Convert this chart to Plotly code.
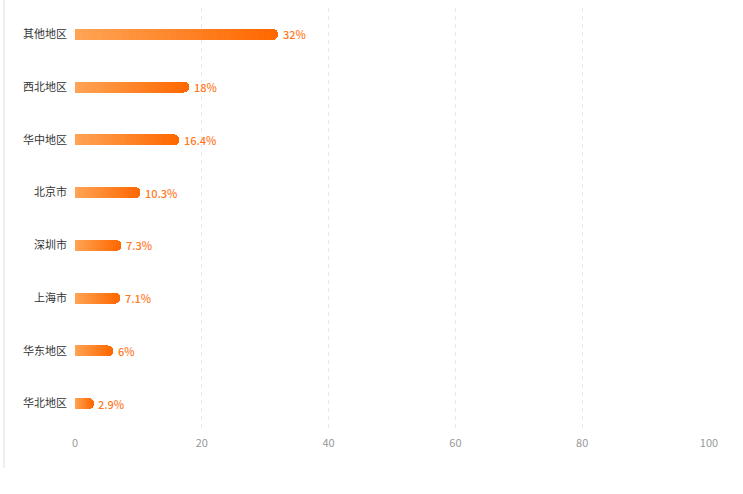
import plotly.graph_objects as go

regions = ["其他地区", "西北地区", "华中地区", "北京市", "深圳市", "上海市", "华东地区", "华北地区"]
values = [32, 18, 16.4, 10.3, 7.3, 7.1, 6, 2.9]
labels = ["32%", "18%", "16.4%", "10.3%", "7.3%", "7.1%", "6%", "2.9%"]
x_ticks = [0, 20, 40, 60, 80, 100]

c0 = (255, 163, 84)
c1 = (255, 104, 0)
N = 30

fig = go.Figure()
for i in range(N):
    t = i / (N - 1)
    col = "rgb(%d,%d,%d)" % tuple(round(a + (b - a) * t) for a, b in zip(c0, c1))
    fig.add_trace(go.Bar(
        y=regions, x=[v / N for v in values], orientation="h",
        marker=dict(color=col, line=dict(width=0)),
        hoverinfo="skip", showlegend=False,
    ))

for r, v, lab in zip(regions, values, labels):
    fig.add_annotation(
        x=v, y=r, text=lab, showarrow=False, xanchor="left", yanchor="middle",
        xshift=3, yshift=0,
        font=dict(color="#FF7A1F", size=11, family="Noto Sans CJK SC", weight=500),
    )

fig.update_layout(
    width=743, height=494,
    margin=dict(l=75, r=34, t=8, b=64),
    barmode="stack", bargap=0.79, barcornerradius=6,
    plot_bgcolor="white", paper_bgcolor="white",
    font=dict(family="Noto Sans CJK SC", size=11, color="#333333"),
    xaxis=dict(
        range=[0, 100], tickvals=x_ticks, showgrid=True, automargin=False,
        gridcolor="#e8e8e8", griddash="4px,4px", gridwidth=1,
        zeroline=False, showline=False, ticks="",
        ticklabelstandoff=5,
        tickfont=dict(color="#999999", size=11),
    ),
    yaxis=dict(
        categoryorder="array", categoryarray=regions[::-1], automargin=False,
        showgrid=False, zeroline=False, showline=False, ticks="",
        ticklabelstandoff=7,
        tickfont=dict(color="#333333", size=11),
    ),
    shapes=[dict(type="line", xref="paper", yref="paper",
                 x0=-0.112, x1=-0.112, y0=-0.09, y1=1.02,
                 line=dict(color="#f0f0f0", width=2))],
)

fig.write_html("out.html", config={"displayModeBar": False},
               post_script="document.body.style.margin='0';")
